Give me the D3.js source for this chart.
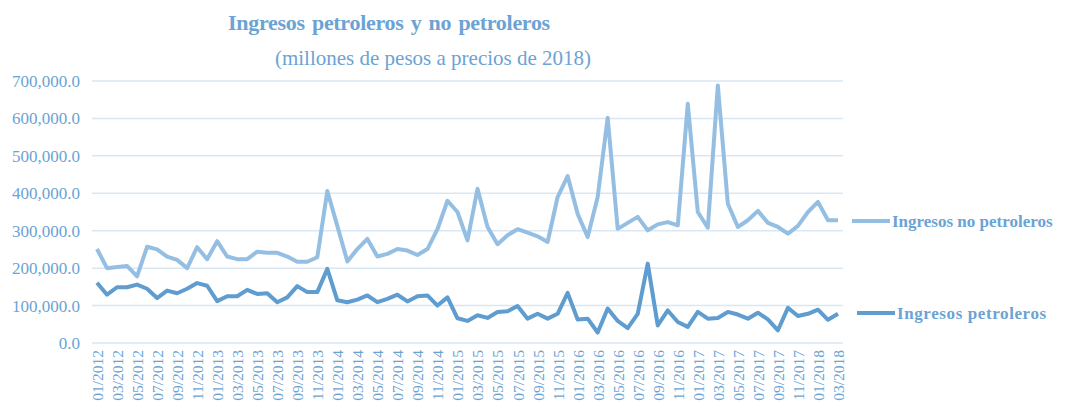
<!DOCTYPE html>
<html>
<head>
<meta charset="utf-8">
<script src="https://cdn.jsdelivr.net/npm/d3@7"></script>
<style>
  body { margin: 0; background: #fff; }
  text { font-family: "Liberation Serif", "Times New Roman", serif; }
</style>
</head>
<body>
<div class="chart"></div>
<script>
// monthly data 01/2012 - 03/2018
var months = [];
for (var y = 2012; y <= 2018; y++) {
  for (var m = 1; m <= 12; m++) {
    if (y === 2018 && m > 3) break;
    months.push((m < 10 ? "0" + m : "" + m) + "/" + y);
  }
}

var noPetroleros = [
  251, 200, 203, 206, 178, 257, 250, 231, 222, 200, 256, 224,
  272, 231, 224, 224, 244, 241, 241, 231, 217, 217, 229, 406,
  313, 218, 251, 278, 231, 238, 251, 247, 235, 251, 304, 380,
  350, 274, 412, 310, 264, 288, 304, 295, 285, 270, 390, 446,
  345, 283, 390, 602, 305, 321, 337, 301, 317, 323, 314, 639,
  350, 308, 688, 372, 310, 328, 353, 321, 310, 292, 313, 350,
  377, 328, 328
].map(d => d * 1000);

var petroleros = [
  161, 129, 149, 149, 156, 145, 120, 140, 133, 145, 160, 153,
  112, 125, 125, 142, 131, 133, 109, 122, 152, 136, 136, 198,
  114, 109, 116, 127, 109, 118, 129, 111, 125, 127, 100, 122,
  66, 59, 74, 67, 83, 85, 99, 65, 78, 65, 78, 134,
  63, 65, 28, 92, 59, 40, 78, 212, 47, 87, 56, 43,
  83, 65, 67, 83, 76, 65, 81, 63, 34, 94, 72, 78,
  89, 62, 78
].map(d => d * 1000);

var yTicks = [0, 100000, 200000, 300000, 400000, 500000, 600000, 700000];

var svgWidth = 1065;
var svgHeight = 409;
var margin = { top: 81, right: 222, bottom: 66, left: 92 };
var width = svgWidth - margin.left - margin.right;
var height = svgHeight - margin.top - margin.bottom;

var textColor = "#6ba3d4";
var lightBlue = "#95bfe2";
var darkBlue = "#5f9ccf";

var svg = d3.select(".chart")
  .append("svg")
  .attr("width", svgWidth)
  .attr("height", svgHeight);

var chartGroup = svg.append("g")
  .attr("transform", `translate(${margin.left}, ${margin.top})`);

var xScale = d3.scalePoint()
  .domain(months)
  .range([0, width])
  .padding(0.5);

var yScale = d3.scaleLinear()
  .domain([0, 700000])
  .range([height, 0]);

// gridlines
chartGroup.selectAll(".grid")
  .data(yTicks)
  .enter()
  .append("line")
  .attr("x1", 0)
  .attr("x2", width)
  .attr("y1", d => yScale(d))
  .attr("y2", d => yScale(d))
  .attr("stroke", "#d9e7f4")
  .attr("stroke-width", 1.5);

// y axis labels
var leftAxis = d3.axisLeft(yScale)
  .tickValues(yTicks)
  .tickSize(0)
  .tickPadding(12)
  .tickFormat(d3.format(",.1f"));

var yAxis = chartGroup.append("g").call(leftAxis);
yAxis.select(".domain").remove();
yAxis.selectAll("text")
  .attr("fill", textColor)
  .style("font-size", "17px");

// x axis labels, every second month
var bottomAxis = d3.axisBottom(xScale)
  .tickValues(months.filter((d, i) => i % 2 === 0))
  .tickSize(0);

var xAxis = chartGroup.append("g")
  .attr("transform", `translate(0, ${height})`)
  .call(bottomAxis);
xAxis.select(".domain").remove();
xAxis.selectAll("text")
  .attr("fill", textColor)
  .style("font-size", "15.5px")
  .attr("transform", "rotate(-90)")
  .attr("text-anchor", "end")
  .attr("x", -7)
  .attr("y", 0)
  .attr("dy", "0.35em");

// lines
var line = d3.line()
  .x((d, i) => xScale(months[i]))
  .y(d => yScale(d));

chartGroup.append("path")
  .datum(noPetroleros)
  .attr("fill", "none")
  .attr("stroke", lightBlue)
  .attr("stroke-width", 4)
  .attr("stroke-linejoin", "round")
  .attr("d", line);

chartGroup.append("path")
  .datum(petroleros)
  .attr("fill", "none")
  .attr("stroke", darkBlue)
  .attr("stroke-width", 4)
  .attr("stroke-linejoin", "round")
  .attr("d", line);

// legend
var legend = [
  { name: "Ingresos no petroleros", color: lightBlue, y: 221, x: 852, spacing: 0 },
  { name: "Ingresos petroleros", color: darkBlue, y: 313, x: 857, spacing: 0.6 }
];

legend.forEach(function(l) {
  svg.append("line")
    .attr("x1", l.x)
    .attr("x2", l.x + 38)
    .attr("y1", l.y)
    .attr("y2", l.y)
    .attr("stroke", l.color)
    .attr("stroke-width", 4);
  svg.append("text")
    .attr("x", l.x + 40)
    .attr("y", l.y)
    .attr("dy", "0.35em")
    .attr("fill", textColor)
    .style("font-size", "17px")
    .style("font-weight", "bold")
    .style("letter-spacing", l.spacing + "px")
    .text(l.name);
});

// titles
svg.append("text")
  .attr("x", 389)
  .attr("y", 30)
  .attr("text-anchor", "middle")
  .attr("fill", textColor)
  .style("font-size", "22px")
  .style("font-weight", "bold")
  .style("letter-spacing", "-0.3px")
  .style("word-spacing", "2px")
  .text("Ingresos petroleros y no petroleros");

svg.append("text")
  .attr("x", 433)
  .attr("y", 65)
  .attr("text-anchor", "middle")
  .attr("fill", textColor)
  .style("font-size", "21px")
  .text("(millones de pesos a precios de 2018)");
</script>
</body>
</html>
